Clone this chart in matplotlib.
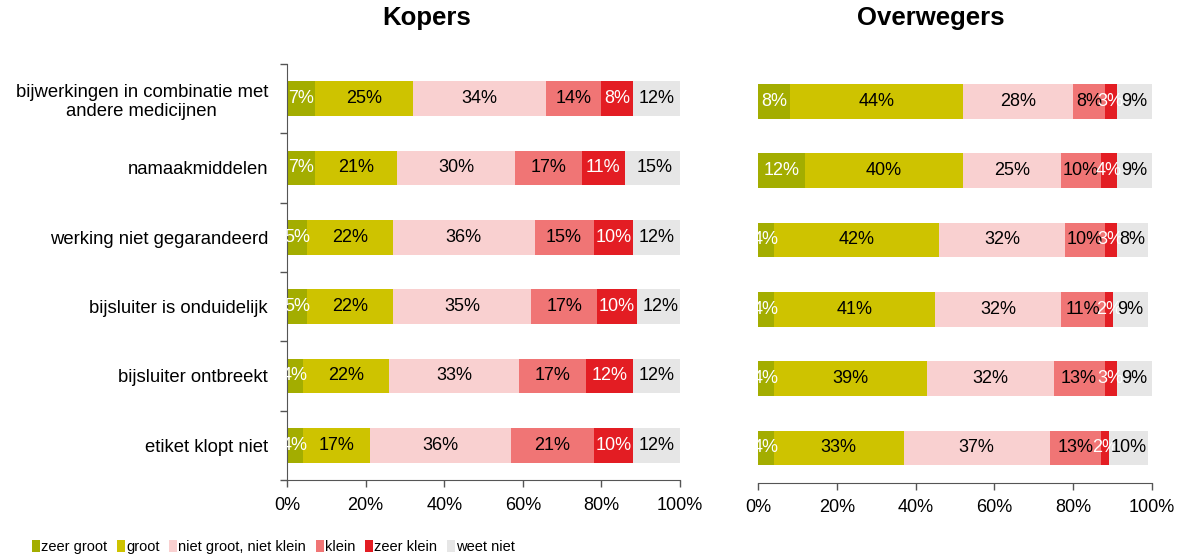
import numpy as np
import matplotlib as mpl
import matplotlib.pyplot as plt
from matplotlib.patches import Patch

mpl.use('Agg')
plt.rcParams['font.family'] = ['Liberation Sans', 'DejaVu Sans']

# ---------------------------------------------------------
categories = ['bijwerkingen in combinatie met\nandere medicijnen',
              'namaakmiddelen',
              'werking niet gegarandeerd',
              'bijsluiter is onduidelijk',
              'bijsluiter ontbreekt',
              'etiket klopt niet']

answers = ['zeer groot', 'groot', 'niet groot, niet klein',
           'klein', 'zeer klein', 'weet niet']
colors = ['#a3ad00', '#cec300', '#f9d0d0', '#f07575', '#e31d23', '#e6e6e6']
text_colors = ['white', 'black', 'black', 'black', 'white', 'black']

# per answer, one value per category (top to bottom)
kopers = [
    [7, 7, 5, 5, 4, 4],
    [25, 21, 22, 22, 22, 17],
    [34, 30, 36, 35, 33, 36],
    [14, 17, 15, 17, 17, 21],
    [8, 11, 10, 10, 12, 10],
    [12, 15, 12, 12, 12, 12],
]
overwegers = [
    [8, 12, 4, 4, 4, 4],
    [44, 40, 42, 41, 39, 33],
    [28, 25, 32, 32, 32, 37],
    [8, 10, 10, 11, 13, 13],
    [3, 4, 3, 2, 3, 2],
    [9, 9, 8, 9, 9, 10],
]

xticks = [0, 20, 40, 60, 80, 100]
xticklabels = ['0%', '20%', '40%', '60%', '80%', '100%']


def draw_panel(ax, data, show_labels):
    y = np.arange(len(categories))
    left = np.zeros(len(categories))
    for k, vals in enumerate(data):
        vals = np.array(vals, dtype=float)
        ax.barh(y, vals, left=left, height=0.5, color=colors[k],
                edgecolor='none')
        for i, v in enumerate(vals):
            ax.text(left[i] + v / 2, y[i], f'{int(v)}%', ha='center',
                    va='center', fontsize=13, color=text_colors[k],
                    clip_on=True)
        left += vals

    ax.set_xlim(0, 100)
    ax.set_ylim(len(categories) - 0.5, -0.5)
    ax.set_xticks(xticks)
    ax.set_xticklabels(xticklabels, fontsize=13)
    ax.tick_params(axis='x', length=5, width=1, color='#555555', pad=7)

    for s in ['top', 'right']:
        ax.spines[s].set_visible(False)
    ax.spines['bottom'].set_color('#555555')

    if show_labels:
        ax.spines['left'].set_color('#555555')
        ax.set_yticks(y)
        ax.set_yticklabels(categories, fontsize=13.3, multialignment='center')
        ax.tick_params(axis='y', which='major', length=0, pad=13.7)
        ax.set_yticks(np.arange(len(categories) + 1) - 0.5, minor=True)
        ax.tick_params(axis='y', which='minor', length=5, width=1,
                       color='#555555')
    else:
        ax.spines['left'].set_visible(False)
        ax.set_yticks([])


def main():
    fig = plt.figure(figsize=(11.83, 5.59), dpi=100)

    ax1 = fig.add_axes([287 / 1183, 79 / 559, 393 / 1183, 416 / 559])
    ax2 = fig.add_axes([758 / 1183, 76.5 / 559, 394 / 1183, 416 / 559])

    draw_panel(ax1, kopers, True)
    draw_panel(ax2, overwegers, False)

    fig.text(427 / 1183, 1 - 18 / 559, 'Kopers', ha='center', va='center',
             fontsize=18.5, fontweight='bold')
    fig.text(931 / 1183, 1 - 18 / 559, 'Overwegers', ha='center',
             va='center', fontsize=18.5, fontweight='bold')

    handles = [Patch(facecolor=c, edgecolor='none') for c in colors]
    fig.legend(handles, answers, loc='center left', ncol=6,
               bbox_to_anchor=(32 / 1183, 1 - 547 / 559), frameon=False,
               borderpad=0, borderaxespad=0, fontsize=10.5,
               handlelength=0.55, handleheight=0.82,
               handletextpad=0.07, columnspacing=0.67)

    fig.savefig('out.png', dpi=100)


if __name__ == '__main__':
    main()
